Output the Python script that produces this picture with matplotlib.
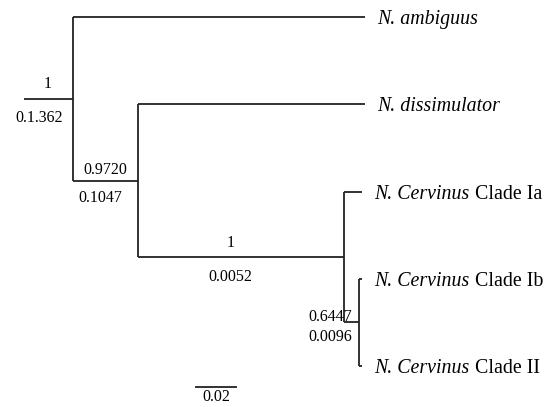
import matplotlib.pyplot as plt

plt.rcParams['font.family'] = ['Liberation Serif', 'DejaVu Serif']

# tree topology: (parent, child, branch length)
edges = [
    ("stem", "root", 0.0233),
    ("root", "amb", 0.1390),
    ("root", "n2", 0.0310),
    ("n2", "dis", 0.1081),
    ("n2", "cerv", 0.0981),
    ("cerv", "Ia", 0.0086),
    ("cerv", "n3", 0.0071),
    ("n3", "Ib", 0.0014),
    ("n3", "II", 0.0014),
]
tips = ["amb", "dis", "Ia", "Ib", "II"]
genus = ["N. ambiguus", "N. dissimulator", "N. Cervinus", "N. Cervinus", "N. Cervinus"]
clade = ["", "", "Clade Ia", "Clade Ib", "Clade II"]

# node annotations: support above, length below
support = {"root": "1", "n2": "0.9720", "cerv": "1", "n3": "0.6447"}
lengths = {"root": "0.1.362", "n2": "0.1047", "cerv": "0.0052", "n3": "0.0096"}
scale_len = 0.02

# x positions from cumulative branch lengths
x = {"stem": 0.0}
children = {}
for p, c, L in edges:
    x[c] = x[p] + L
    children.setdefault(p, []).append(c)

y = {t: i for i, t in enumerate(tips)}
def set_y(n):
    if n in y:
        return y[n]
    ys = [set_y(c) for c in children[n]]
    y[n] = (ys[0] + ys[-1]) / 2
    return y[n]
set_y("stem")
y["stem"] = y["root"]

fig = plt.figure(figsize=(5.55, 4.07), dpi=100)
ax = fig.add_axes([0, 0, 1, 1])
lw = 1.3
col = "#222222"
for p, c, L in edges:
    ax.plot([x[p], x[c]], [y[c], y[c]], color=col, lw=lw, solid_capstyle="butt")
for n, ch in children.items():
    if len(ch) > 1:
        ax.plot([x[n], x[n]], [y[ch[0]], y[ch[-1]]], color=col, lw=lw, solid_capstyle="butt")

tip_fs = 14.3
for t, g, c in zip(tips, genus, clade):
    ty = y[t] + 0.03
    gt = ax.text(x[t] + 0.0057, ty, g, fontsize=tip_fs, fontstyle="italic", va="center", ha="left")
    if c:
        ax.annotate(c, xy=(1, ty), xycoords=(gt, "data"), xytext=(4, 0),
                    textcoords="offset points", fontsize=tip_fs, va="center", ha="left")

# branch annotations
fs = 11.5
d = 0.025
ax.text(x["root"] - 0.0119, y["root"] - 0.19 + d, support["root"], fontsize=fs, ha="center", va="center")
ax.text(x["root"] - 0.0162, y["root"] + 0.2 + d, lengths["root"], fontsize=fs, ha="center", va="center")
ax.text(x["n2"] - 0.0157, y["n2"] - 0.15 + d, support["n2"], fontsize=fs, ha="center", va="center")
ax.text(x["n2"] - 0.0181, y["n2"] + 0.18 + d, lengths["n2"], fontsize=fs, ha="center", va="center")
ax.text(x["cerv"] - 0.0538, y["cerv"] - 0.19 + d, support["cerv"], fontsize=fs, ha="center", va="center")
ax.text(x["cerv"] - 0.0543, y["cerv"] + 0.2 + d, lengths["cerv"], fontsize=fs, ha="center", va="center")
ax.text(x["n3"] - 0.0033, y["n3"] - 0.085 + d, support["n3"], fontsize=fs, ha="right", va="center")
ax.text(x["n3"] - 0.0033, y["n3"] + 0.145 + d, lengths["n3"], fontsize=fs, ha="right", va="center")

# scale bar
sx0 = 0.0814
ax.plot([sx0, sx0 + scale_len], [4.24, 4.24], color=col, lw=lw, solid_capstyle="butt")
ax.text(sx0 + scale_len / 2, 4.355, f"{scale_len:g}", fontsize=fs, ha="center", va="center")

ax.set_xlim(-24 / 2100, 531 / 2100)
ax.set_ylim(390 / 87.25, -17 / 87.25)
ax.axis("off")
fig.savefig("out.png", dpi=100)
